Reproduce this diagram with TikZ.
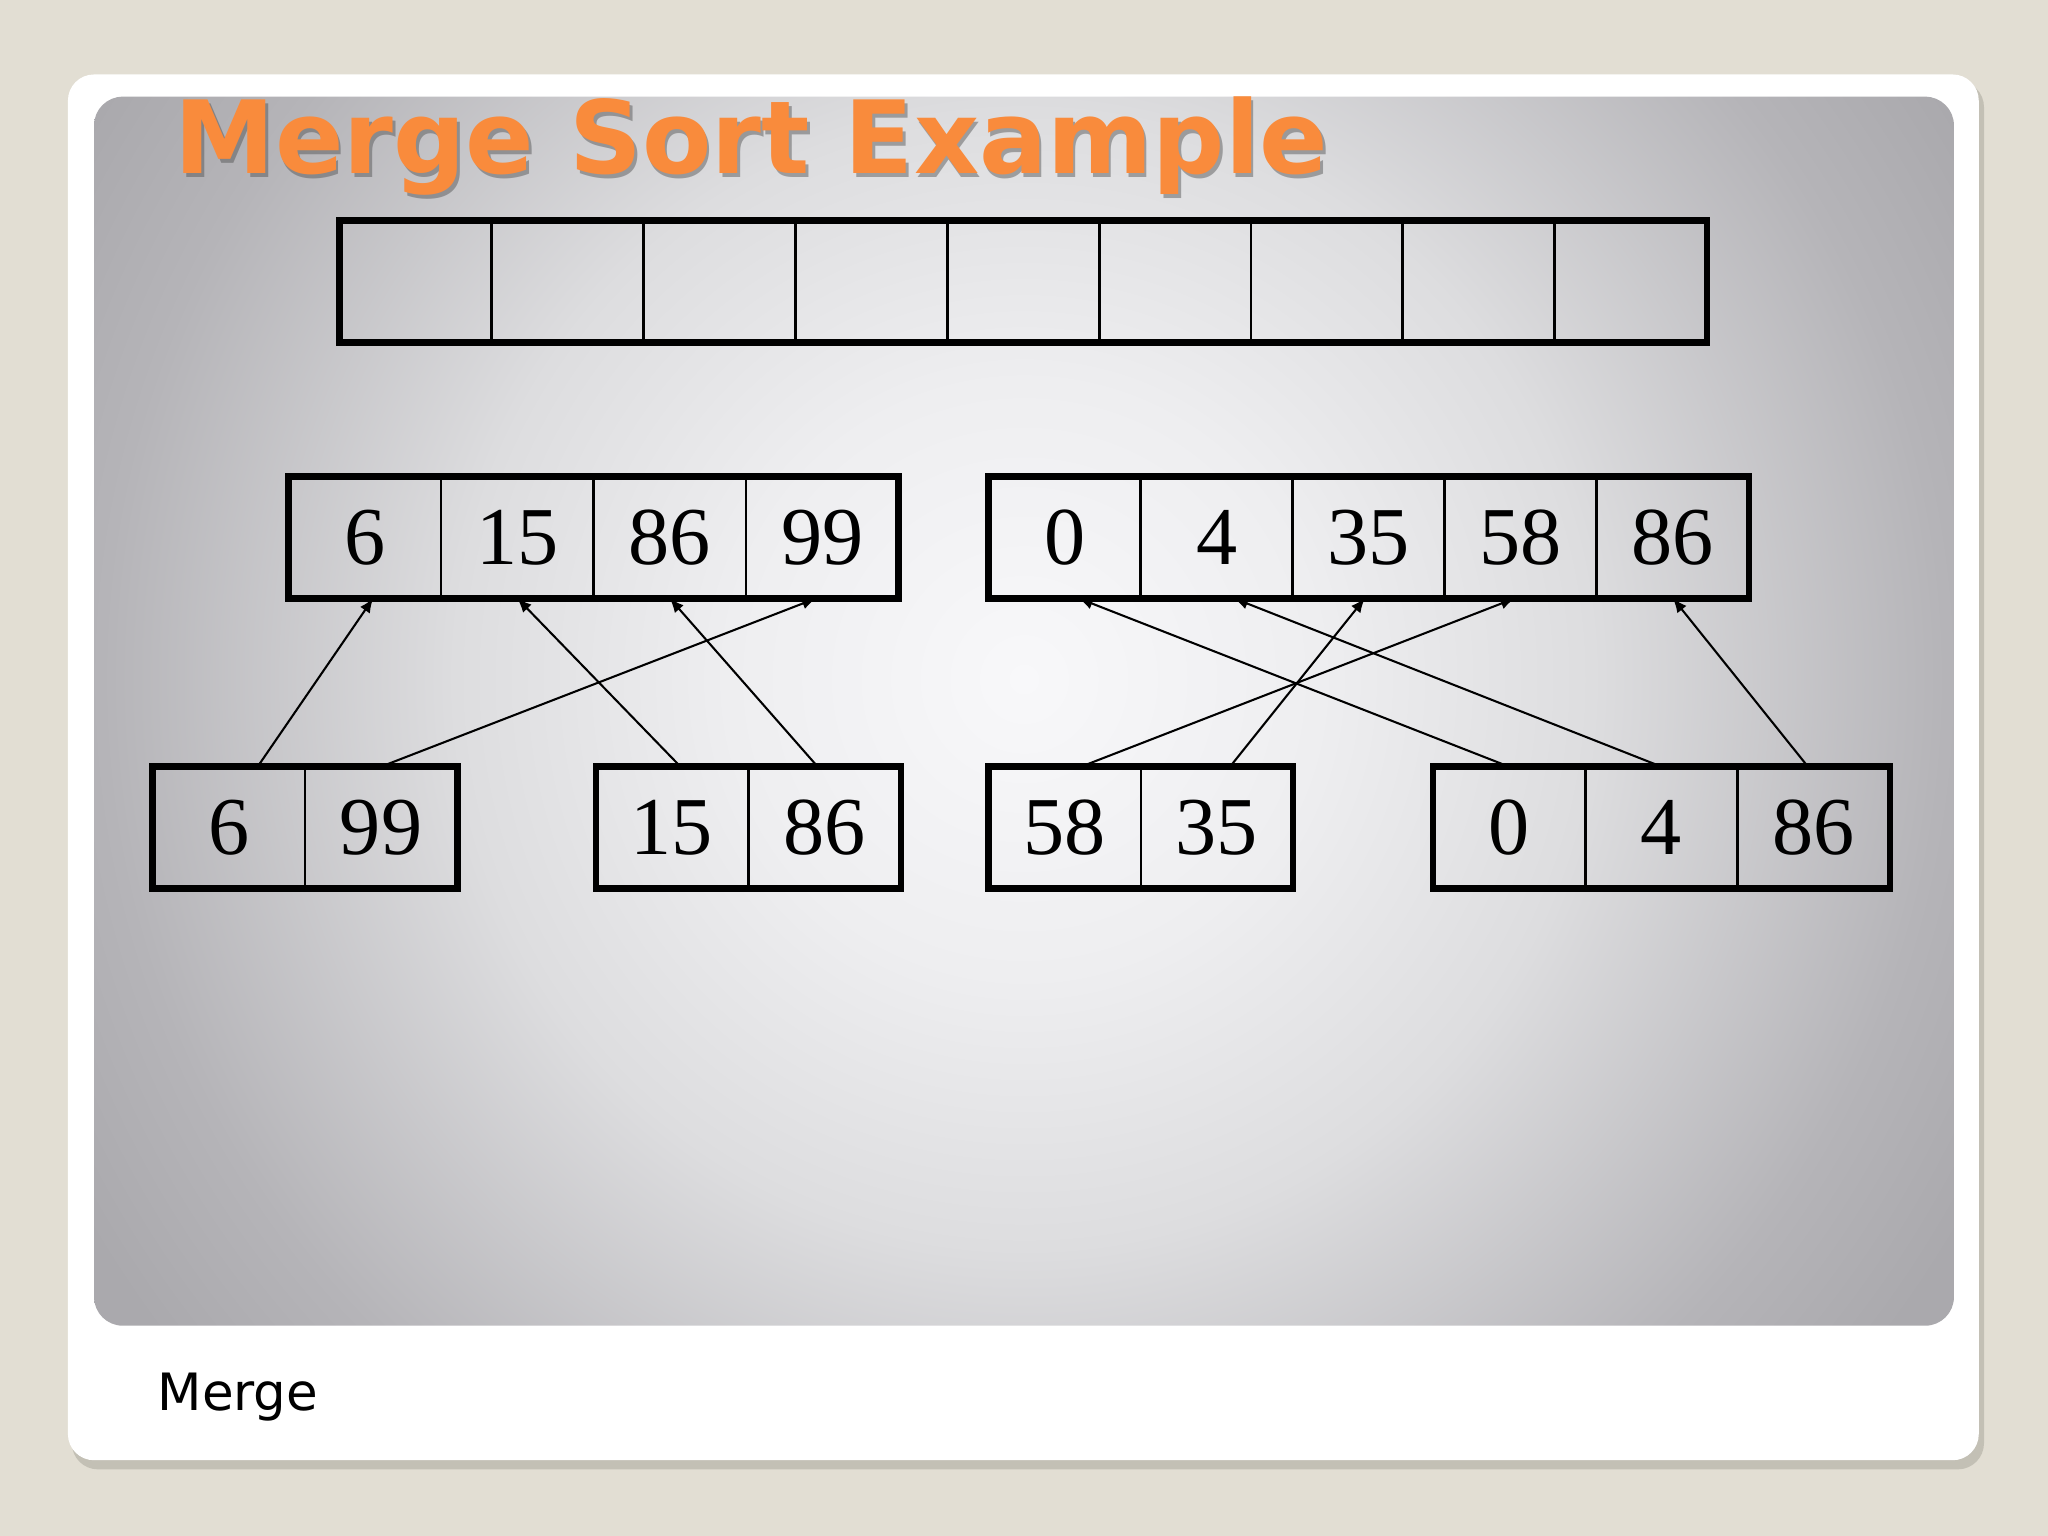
\documentclass[tikz,border=0pt]{standalone}
\usepackage{fontspec}
\setmainfont{Liberation Serif}
\newfontfamily\slidefont{DejaVu Sans}
\usetikzlibrary{arrows.meta}

\definecolor{slidebeige}{RGB}{226,222,211}
\definecolor{cardshadow}{RGB}{188,185,174}
\definecolor{titleorange}{RGB}{249,139,60}
\definecolor{panelcore}{RGB}{248,248,250}
\definecolor{panellight}{RGB}{238,238,240}
\definecolor{panelmid}{RGB}{221,221,223}
\definecolor{panelgrey}{RGB}{181,180,184}
\definecolor{paneldark}{RGB}{170,169,173}

% middle 50bp square is stretched over the shaded path
\pgfdeclareradialshading{panelglow}{\pgfpoint{0bp}{0bp}}{color(0bp)=(panelcore); color(6.3bp)=(panellight); color(12.1bp)=(panelmid); color(19.6bp)=(panelgrey); color(23.1bp)=(paneldark); color(50bp)=(paneldark)}

\tikzset{
  cell/.style={draw, line width=0.55pt, inner sep=0pt, outer sep=0pt,
    minimum width=1.165cm, minimum height=0.93cm,
    font=\fontsize{17.9}{20}\selectfont},
  frame/.style={draw, line width=1.45pt},
  merge/.style={-{Latex[length=1.1mm,width=0.9mm]}, line width=0.45pt},
  headline/.style={anchor=base west, inner sep=0pt,
    font=\slidefont\bfseries\fontsize{22}{24}\selectfont}
}

\begin{document}
\begin{tikzpicture}[x=0.01cm, y=-0.01cm]

  % slide background and card
  \fill[slidebeige] (0,0) rectangle (1568,1176);
  \useasboundingbox (0,0) rectangle (1568,1176);
  \fill[cardshadow, opacity=0.8, rounded corners=0.2cm] (55,62) rectangle (1519,1125);
  \fill[white, rounded corners=0.2cm] (52,57) rectangle (1515,1118);
  \begin{scope}
    \clip[rounded corners=0.22cm] (72,74) rectangle (1496,1015);
    \shade[shading=panelglow] (-116,-380) rectangle (1684,1420);
  \end{scope}

  % title
  \node[headline, text=black!70, opacity=0.45] at (135,136) {Merge Sort Example};
  \node[headline, text=titleorange] (title) at (133,133) {Merge Sort Example};

  % empty array
  \foreach \i in {1,...,9}
    \node[cell] (e\i) at ({260+58.15+116.3*(\i-1)}, 215.5) {};
  \draw[frame] (e1.north west) rectangle (e9.south east);

  % merged halves
  \foreach \v [count=\i] in {6,15,86,99}
    \node[cell] (t\i) at ({221+58.25+116.75*(\i-1)}, 411.5) {\v};
  \draw[frame] (t1.north west) rectangle (t4.south east);

  \foreach \v [count=\i] in {0,4,35,58,86}
    \node[cell] (u\i) at ({757+58.2+116.4*(\i-1)}, 411.5) {\v};
  \draw[frame] (u1.north west) rectangle (u5.south east);

  % sorted pairs
  \foreach \v [count=\i] in {6,99}
    \node[cell] (a\i) at ({117+58.25+116.5*(\i-1)}, 633.5) {\v};
  \draw[frame] (a1.north west) rectangle (a2.south east);

  \foreach \v [count=\i] in {15,86}
    \node[cell] (b\i) at ({456+58.5+117*(\i-1)}, 633.5) {\v};
  \draw[frame] (b1.north west) rectangle (b2.south east);

  \foreach \v [count=\i] in {58,35}
    \node[cell] (c\i) at ({757+58.25+116.5*(\i-1)}, 633.5) {\v};
  \draw[frame] (c1.north west) rectangle (c2.south east);

  \foreach \v [count=\i] in {0,4,86}
    \node[cell] (d\i) at ({1097+58.3+116.7*(\i-1)}, 633.5) {\v};
  \draw[frame] (d1.north west) rectangle (d3.south east);

  % merge arrows
  \draw[merge] ([xshift=0.22cm]a1.north) -- ([xshift=0.065cm]t1.south);
  \draw[merge] (a2.north) -- ([xshift=-0.045cm]t4.south);
  \draw[merge] ([xshift=0.065cm]b1.north) -- (t2.south);
  \draw[merge] ([xshift=-0.055cm]b2.north) -- (t3.south);

  \draw[merge] ([xshift=0.125cm]c1.north) -- ([xshift=-0.045cm]u4.south);
  \draw[merge] ([xshift=0.1cm]c2.north) -- ([xshift=-0.03cm]u3.south);
  \draw[merge] (d1.north) -- ([xshift=0.105cm]u1.south);
  \draw[merge] (d2.north) -- ([xshift=0.13cm]u2.south);
  \draw[merge] ([xshift=-0.045cm]d3.north) -- (u5.south);

  % caption
  \node[anchor=base west, inner sep=0pt, font=\slidefont\fontsize{11.2}{13}\selectfont] (caption) at (120,1080) {Merge};

\end{tikzpicture}
\end{document}
